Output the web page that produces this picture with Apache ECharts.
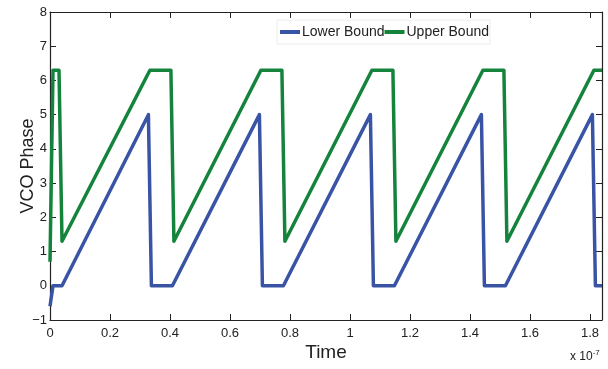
<!DOCTYPE html>
<html>
<head>
<meta charset="utf-8">
<script src="https://cdn.jsdelivr.net/npm/echarts@6/dist/echarts.min.js"></script>
<style>
  html, body { margin: 0; padding: 0; background: #fff; }
  #chart { width: 608px; height: 369px; }
</style>
</head>
<body>
<div id="chart"></div>
<script>
// time in units of 1e-7 s
const upperBound = [
  [0, 0.7], [0.01, 6.3], [0.03, 6.3], [0.04, 1.3],
  [0.333, 6.3], [0.403, 6.3], [0.413, 1.3],
  [0.703, 6.3], [0.773, 6.3], [0.783, 1.3],
  [1.073, 6.3], [1.143, 6.3], [1.153, 1.3],
  [1.443, 6.3], [1.513, 6.3], [1.523, 1.3],
  [1.813, 6.3], [1.84, 6.3]
];
const lowerBound = [
  [0, -0.6], [0.01, 0], [0.04, 0],
  [0.328, 5.0], [0.338, 0], [0.408, 0],
  [0.698, 5.0], [0.708, 0], [0.778, 0],
  [1.068, 5.0], [1.078, 0], [1.148, 0],
  [1.438, 5.0], [1.448, 0], [1.518, 0],
  [1.808, 5.0], [1.818, 0], [1.84, 0]
];
const seriesNames = ["Lower Bound", "Upper Bound"];
const seriesColors = ["#3a54a5", "#14843d"];

const chart = echarts.init(document.getElementById("chart"), null, { renderer: "canvas" });

const font = "'Liberation Sans', Arial, sans-serif";
const axisColor = "#222";

const frameAxis = (extra) => Object.assign({
  type: "value",
  axisLine: { show: true, onZero: false, lineStyle: { color: axisColor, width: 1.2 } },
  axisTick: { show: true, inside: true, length: 6, lineStyle: { color: axisColor } },
  splitLine: { show: false },
}, extra);

chart.setOption({
  animation: false,
  grid: { left: 50, right: 6, top: 12, bottom: 49, outerBoundsMode: "none", containLabel: false },
  legend: {
    data: seriesNames,
    left: 277,
    top: 20,
    icon: "rect",
    itemWidth: 20,
    itemHeight: 4,
    itemGap: 0,
    padding: [5, 1, 5, 3],
    backgroundColor: "#fff",
    borderColor: "#ececec",
    borderWidth: 1,
    textStyle: { fontFamily: font, fontSize: 14, color: "#222", padding: [1, 0, 0, -3] },
  },
  xAxis: [
    frameAxis({
      min: 0, max: 1.84, interval: 0.2,
      name: "Time", nameLocation: "middle", nameGap: 23, nameMoveOverlap: false,
      nameTextStyle: { fontFamily: font, fontSize: 19, color: "#222" },
      axisLabel: {
        fontFamily: font, fontSize: 13, color: "#222", margin: 7,
        showMaxLabel: false,
        formatter: (v) => (Math.abs(v / 0.2 - Math.round(v / 0.2)) < 1e-6 ? String(+v.toFixed(1)).replace("-", "\u2212") : ""),
      },
    }),
    frameAxis({
      position: "top", min: 0, max: 1.84, interval: 0.2,
      axisLabel: { show: false },
    }),
  ],
  yAxis: [
    frameAxis({
      min: -1, max: 8, interval: 1,
      name: "VCO Phase", nameLocation: "middle", nameGap: 13, nameRotate: 90, nameMoveOverlap: false,
      nameTextStyle: { fontFamily: font, fontSize: 18, color: "#222" },
      axisLabel: {
        fontFamily: font, fontSize: 13, color: "#222", margin: 3,
        formatter: (v) => String(v).replace("-", "\u2212"),
      },
    }),
    frameAxis({
      position: "right", min: -1, max: 8, interval: 1,
      axisLabel: { show: false },
    }),
  ],
  graphic: [{
    type: "text",
    left: 570,
    top: 349,
    style: {
      text: "x 10{s|-7}",
      font: "12px " + font,
      fill: "#222",
      rich: { s: { fontSize: 8, fontFamily: font, verticalAlign: "top", padding: [0, 0, 8, 0] } },
    },
  }],
  series: [
    {
      name: seriesNames[0], type: "line", data: lowerBound,
      showSymbol: false, color: seriesColors[0],
      lineStyle: { width: 3.5, color: seriesColors[0], join: "round" },
    },
    {
      name: seriesNames[1], type: "line", data: upperBound,
      showSymbol: false, color: seriesColors[1],
      lineStyle: { width: 3.5, color: seriesColors[1], join: "round" },
    },
  ],
});
</script>
</body>
</html>
